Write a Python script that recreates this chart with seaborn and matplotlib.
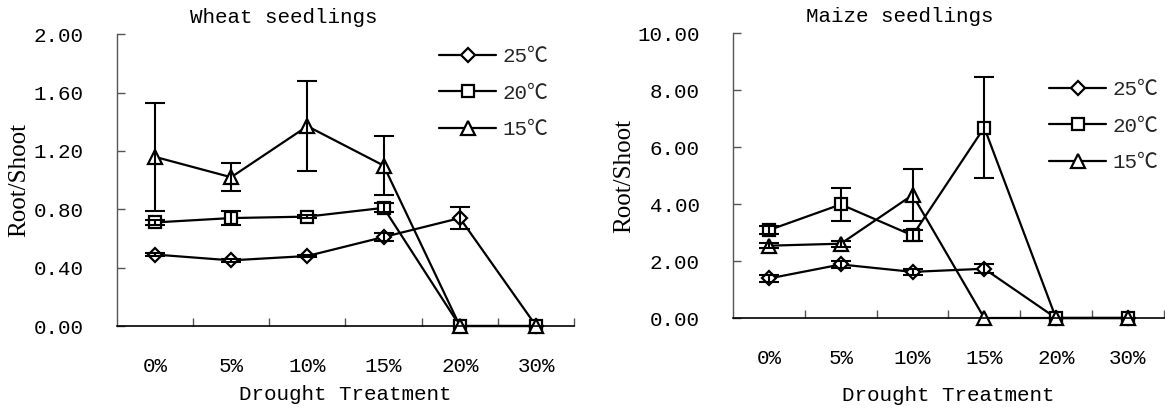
import numpy as np
import pandas as pd
import matplotlib
matplotlib.use("Agg")
import matplotlib.pyplot as plt
from matplotlib.ticker import FormatStrFormatter
import seaborn as sns

# ---------------- data ----------------
categories = ["0%", "5%", "10%", "15%", "20%", "30%"]
temps = ["25℃", "20℃", "15℃"]

wheat_25 = [0.49, 0.45, 0.48, 0.61, 0.74, 0.00]
wheat_20 = [0.71, 0.74, 0.75, 0.81, 0.00, 0.00]
wheat_15 = [1.16, 1.02, 1.37, 1.10, 0.00, 0.00]
wheat_25_err = [0.01, 0.01, 0.01, 0.03, 0.075, np.nan]
wheat_20_err = [0.02, 0.05, 0.01, 0.03, np.nan, np.nan]
wheat_15_err = [0.37, 0.095, 0.31, 0.205, np.nan, np.nan]

maize_25 = [1.39, 1.88, 1.62, 1.73, 0.00, 0.00]
maize_20 = [3.09, 3.99, 2.90, 6.69, 0.00, 0.00]
maize_15 = [2.54, 2.61, 4.32, 0.00, 0.00, 0.00]
maize_25_err = [0.12, 0.12, 0.10, 0.15, np.nan, np.nan]
maize_20_err = [0.15, 0.58, 0.20, 1.78, np.nan, np.nan]
maize_15_err = [0.08, 0.10, 0.92, np.nan, np.nan, np.nan]

wheat_ticks = [0.0, 0.4, 0.8, 1.2, 1.6, 2.0]
maize_ticks = [0.0, 2.0, 4.0, 6.0, 8.0, 10.0]

# ---------------- style ----------------
sns.set_theme(style="white")
plt.rcParams["font.family"] = ["Liberation Mono", "Noto Sans CJK SC"]
plt.rcParams["axes.unicode_minus"] = False

W, H = 1165, 409
fig = plt.figure(figsize=(W / 100, H / 100), dpi=100)

def px_axes(x0, x1, ytop, ybot):
    return fig.add_axes([x0 / W, 1 - ybot / H, (x1 - x0) / W, (ybot - ytop) / H])

ax1 = px_axes(116.7, 574.3, 34.3, 326.0)
ax2 = px_axes(733.3, 1163.5, 33.3, 318.0)

markers = ["D", "s", "^"]
msizes = [6.8, 9.0, 9.8]
FS = 15

panels = [
    (ax1, [wheat_25, wheat_20, wheat_15], [wheat_25_err, wheat_20_err, wheat_15_err],
     wheat_ticks, "Wheat seedlings", 0.366, 1.058, -0.19, 7, (439, 47)),
    (ax2, [maize_25, maize_20, maize_15], [maize_25_err, maize_20_err, maize_15_err],
     maize_ticks, "Maize seedlings", 0.388, 1.06, -0.228, 13, (1049, 80)),
]

for ax, series, errs, yticks, title, tx, ty, ylx, xlpad, legpos in panels:
    for vals, err, temp, m, ms in zip(series, errs, temps, markers, msizes):
        df = pd.DataFrame({"Treatment": categories, "Value": vals})
        sns.lineplot(data=df, x="Treatment", y="Value", ax=ax, sort=False,
                     errorbar=None, legend=False, label=temp, color="black",
                     linewidth=1.6, marker=m, markersize=ms,
                     markerfacecolor="white", markeredgecolor="black",
                     markeredgewidth=1.6, clip_on=False, zorder=2)
        ax.errorbar(categories, vals, yerr=err, fmt="none", ecolor="black",
                    elinewidth=1.5, capsize=7, capthick=1.5, zorder=3,
                    clip_on=False)

    n = len(categories)
    ax.set_xlim(-0.5, n - 0.5)
    ax.set_ylim(yticks[0], yticks[-1])
    ax.set_yticks(yticks)
    ax.yaxis.set_major_formatter(FormatStrFormatter("%.2f"))
    ax.set_xticks(np.arange(n) + 0.5)
    ax.set_xticklabels([""] * n)
    ax.set_xticks(np.arange(n), labels=categories, minor=True)

    ax.tick_params(axis="x", which="major", direction="in", length=5.5,
                   width=1.0, color="#555555", bottom=True)
    ax.tick_params(axis="x", which="minor", length=0, pad=22, labelsize=FS,
                   labelcolor="black", bottom=True)
    ax.tick_params(axis="y", which="major", direction="in", length=5.8,
                   width=1.0, color="#555555", pad=24, labelsize=FS,
                   labelcolor="black", left=True)

    for s in ["top", "right"]:
        ax.spines[s].set_visible(False)
    ax.spines["left"].set_color("#555555")
    ax.spines["left"].set_linewidth(1.0)
    ax.spines["bottom"].set_color("black")
    ax.spines["bottom"].set_linewidth(1.2)
    ax.set_facecolor("white")
    ax.grid(False)

    ax.set_xlabel("Drought Treatment", fontsize=FS, color="black", labelpad=xlpad)
    ax.set_ylabel("Root/Shoot", fontsize=18, color="black",
                  family=["Liberation Serif", "DejaVu Serif"])
    ax.yaxis.set_label_coords(ylx, 0.5)
    ax.set_title(title, fontsize=FS, color="black", x=tx, y=ty, pad=0, va="center")

    handles, labels = ax.get_legend_handles_labels()
    ax.legend(handles, labels, loc="upper left",
              bbox_to_anchor=(legpos[0] / W, 1 - legpos[1] / H),
              bbox_transform=fig.transFigure, frameon=False, fontsize=FS,
              handlelength=2.75, handletextpad=0.3, labelspacing=0.85,
              borderpad=0, borderaxespad=0, numpoints=1)

fig.savefig("out.png", dpi=100, facecolor="white")
